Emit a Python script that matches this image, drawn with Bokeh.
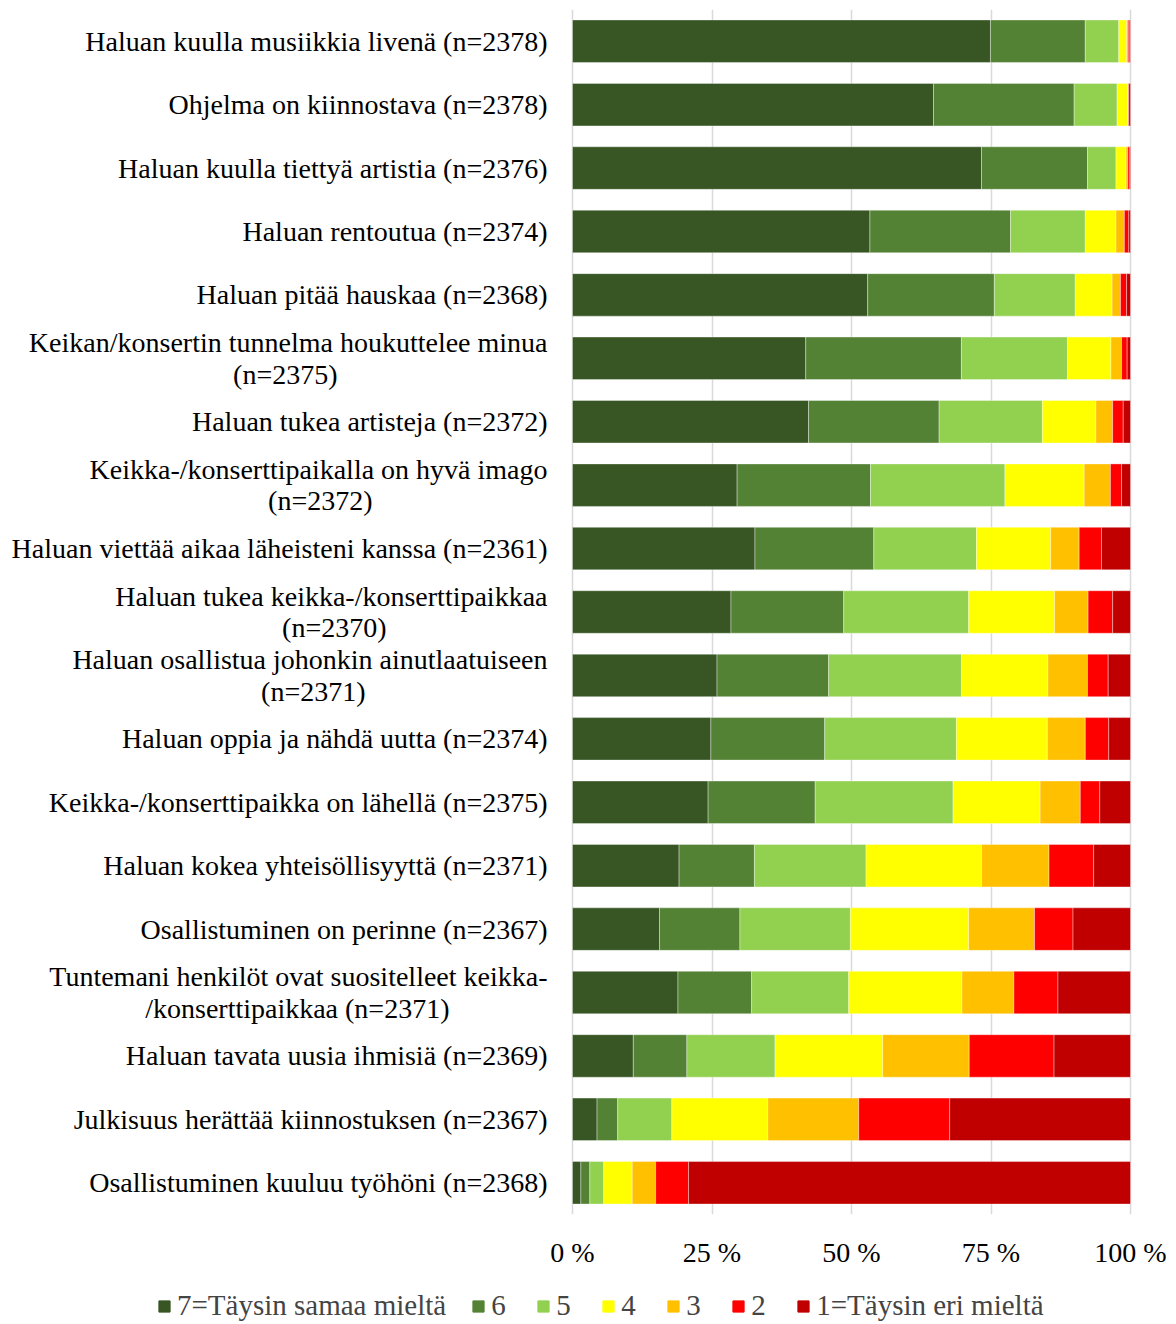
from bokeh.plotting import figure
from bokeh.models import ColumnDataSource, FactorRange, Range1d, FixedTicker, Legend, LegendItem
from bokeh.core.properties import value
from bokeh.layouts import column
from bokeh.embed import file_html
from bokeh.resources import INLINE

categories = [
    "Haluan kuulla musiikkia livenä (n=2378)",
    "Ohjelma on kiinnostava (n=2378)",
    "Haluan kuulla tiettyä artistia (n=2376)",
    "Haluan rentoutua (n=2374)",
    "Haluan pitää hauskaa (n=2368)",
    "Keikan/konsertin tunnelma houkuttelee minua (n=2375)",
    "Haluan tukea artisteja (n=2372)",
    "Keikka-/konserttipaikalla on hyvä imago (n=2372)",
    "Haluan viettää aikaa läheisteni kanssa (n=2361)",
    "Haluan tukea keikka-/konserttipaikkaa (n=2370)",
    "Haluan osallistua johonkin ainutlaatuiseen (n=2371)",
    "Haluan oppia ja nähdä uutta (n=2374)",
    "Keikka-/konserttipaikka on lähellä (n=2375)",
    "Haluan kokea yhteisöllisyyttä (n=2371)",
    "Osallistuminen on perinne (n=2367)",
    "Tuntemani henkilöt ovat suositelleet keikka-/konserttipaikkaa (n=2371)",
    "Haluan tavata uusia ihmisiä (n=2369)",
    "Julkisuus herättää kiinnostuksen (n=2367)",
    "Osallistuminen kuuluu työhöni (n=2368)",
]

# displayed labels: long ones wrap onto two lines, second line centred under the first
NB = "\u00a0"
display_labels = [
    "Haluan kuulla musiikkia livenä (n=2378)",
    "Ohjelma on kiinnostava (n=2378)",
    "Haluan kuulla tiettyä artistia (n=2376)",
    "Haluan rentoutua (n=2374)",
    "Haluan pitää hauskaa (n=2368)",
    "Keikan/konsertin tunnelma houkuttelee minua\n(n=2375)" + NB * 30,
    "Haluan tukea artisteja (n=2372)",
    "Keikka-/konserttipaikalla on hyvä imago\n(n=2372)" + NB * 25,
    "Haluan viettää aikaa läheisteni kanssa (n=2361)",
    "Haluan tukea keikka-/konserttipaikkaa\n(n=2370)" + NB * 23,
    "Haluan osallistua johonkin ainutlaatuiseen\n(n=2371)" + NB * 26,
    "Haluan oppia ja nähdä uutta (n=2374)",
    "Keikka-/konserttipaikka on lähellä (n=2375)",
    "Haluan kokea yhteisöllisyyttä (n=2371)",
    "Osallistuminen on perinne (n=2367)",
    "Tuntemani henkilöt ovat suositelleet keikka-\n/konserttipaikkaa (n=2371)" + NB * 14,
    "Haluan tavata uusia ihmisiä (n=2369)",
    "Julkisuus herättää kiinnostuksen (n=2367)",
    "Osallistuminen kuuluu työhöni (n=2368)",
]

v7 = [74.9, 64.7, 73.3, 53.3, 52.9, 41.8, 42.3, 29.5, 32.7, 28.4, 25.9, 24.8, 24.3, 19.1, 15.6, 18.9, 10.9, 4.4, 1.5]
v6 = [17.0, 25.2, 19.0, 25.2, 22.7, 27.9, 23.4, 23.9, 21.3, 20.2, 20.0, 20.4, 19.2, 13.5, 14.4, 13.2, 9.6, 3.7, 1.6]
v5 = [6.0, 7.7, 5.1, 13.4, 14.5, 19.0, 18.5, 24.1, 18.4, 22.4, 23.8, 23.6, 24.7, 20.0, 19.8, 17.4, 15.8, 9.7, 2.5]
v4 = [1.4, 1.9, 1.8, 5.5, 6.6, 7.8, 9.6, 14.2, 13.3, 15.4, 15.5, 16.3, 15.6, 20.7, 21.2, 20.3, 19.3, 17.2, 5.1]
v3 = [0.3, 0.1, 0.3, 1.5, 1.5, 1.9, 3.0, 4.7, 5.1, 6.0, 7.1, 6.8, 7.2, 12.1, 11.8, 9.3, 15.5, 16.3, 4.2]
v2 = [0.3, 0.1, 0.3, 0.8, 1.1, 1.0, 1.9, 2.0, 4.0, 4.4, 3.7, 4.2, 3.5, 8.0, 6.9, 7.9, 15.2, 16.3, 5.9]
v1 = [0.1, 0.3, 0.2, 0.3, 0.7, 0.6, 1.3, 1.6, 5.2, 3.2, 4.0, 3.9, 5.5, 6.6, 10.3, 13.0, 13.7, 32.4, 79.2]

series_labels = ["7=Täysin samaa mieltä", "6", "5", "4", "3", "2", "1=Täysin eri mieltä"]
series_keys = ["v7", "v6", "v5", "v4", "v3", "v2", "v1"]
colors = ["#375623", "#548235", "#92d050", "#ffff00", "#ffc000", "#ff0000", "#c00000"]

tick_values = [0, 25, 50, 75, 100]
tick_labels = ["0 %", "25 %", "50 %", "75 %", "100 %"]

FONT = "Liberation Serif"
FS = "28px"

# layout constants (pixels)
W = 1176
ZERO_PX = 572      # position of 0 % from the left edge of the canvas
FULL_PX = 1130     # position of 100 %
LABEL_GAP = 25     # gap between category labels and the bars
px_per_pct = (FULL_PX - ZERO_PX) / 100.0
x_start = -ZERO_PX / px_per_pct
x_end = (W - ZERO_PX) / px_per_pct
label_x = -LABEL_GAP / px_per_pct

source = ColumnDataSource(dict(cat=categories, label=display_labels,
                               v7=v7, v6=v6, v5=v5, v4=v4, v3=v3, v2=v2, v1=v1))

p = figure(
    width=W, height=1270,
    y_range=FactorRange(factors=list(reversed(categories)), range_padding=0),
    x_range=Range1d(x_start, x_end),
    output_backend="svg", toolbar_location=None,
    min_border_left=0, min_border_right=0, min_border_top=9, min_border_bottom=51,
)

renderers = p.hbar_stack(series_keys, y="cat", height=0.67, color=colors, source=source,
                         line_color="white", line_width=0.6, line_alpha=0.6)

p.text(x=label_x, y="cat", text="label", source=source,
       text_align="right", text_baseline="middle",
       text_font=value(FONT), text_font_size=FS, text_color="black",
       text_line_height=1.02)

p.outline_line_color = None
p.ygrid.grid_line_color = None
p.xgrid.grid_line_color = "#d9d9d9"
p.xgrid.grid_line_width = 1.5
p.xgrid.ticker = FixedTicker(ticks=tick_values)
p.yaxis.visible = False

p.xaxis.ticker = FixedTicker(ticks=tick_values)
p.xaxis.major_label_overrides = {t: l for t, l in zip(tick_values, tick_labels)}
p.xaxis.axis_line_color = None
p.xaxis.major_tick_line_color = None
p.xaxis.minor_tick_line_color = None
p.xaxis.major_label_text_font = FONT
p.xaxis.major_label_text_font_size = FS
p.xaxis.major_label_text_color = "black"
p.xaxis.major_label_standoff = 16

# legend strip below the chart
lg = figure(
    width=W, height=52, x_range=Range1d(0, 1), y_range=Range1d(0, 1),
    output_backend="svg", toolbar_location=None,
    min_border_left=0, min_border_right=0, min_border_top=0, min_border_bottom=0,
)
lg.axis.visible = False
lg.grid.visible = False
lg.outline_line_color = None
dummy = [lg.quad(left=[2], right=[3], bottom=[2], top=[3], color=c) for c in colors]

legend = Legend(
    items=[LegendItem(label=lab, renderers=[r]) for lab, r in zip(series_labels, dummy)],
    orientation="horizontal",
    location=(157, 0),
    label_text_font=FONT,
    label_text_font_size="29px",
    glyph_width=14, glyph_height=14,
    label_standoff=6, spacing=25,
    border_line_color=None, background_fill_alpha=0,
    padding=0, margin=0,
)
lg.add_layout(legend, "center")

layout = column(p, lg, spacing=0)
open("out.html", "w").write(file_html(layout, INLINE))
